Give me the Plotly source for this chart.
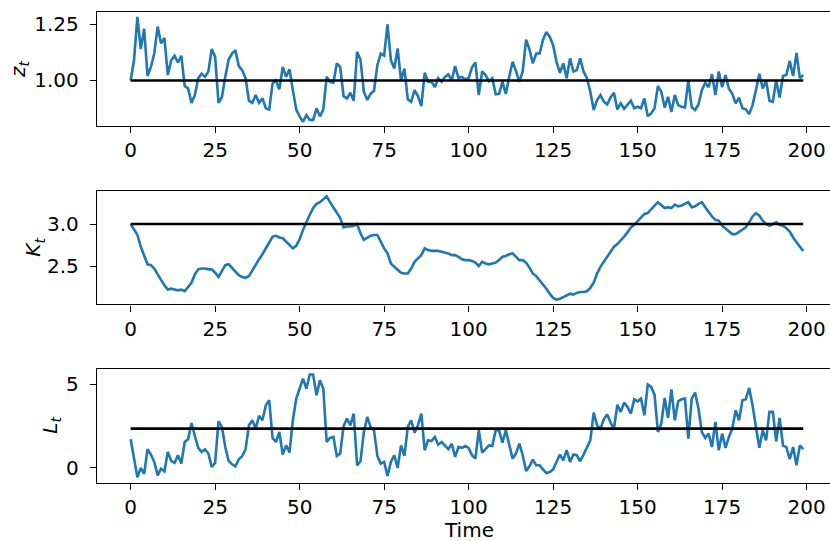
import plotly.graph_objects as go

# ---------------- data ----------------
time = list(range(200))

z_values = [
    1.00, 1.09, 1.283, 1.14, 1.23, 1.02, 1.06, 1.12, 1.24, 1.165,
    1.19, 1.024, 1.09, 1.11, 1.08, 1.11, 0.975, 0.965, 0.90, 0.935,
    1.01, 1.03, 1.016, 1.04, 1.14, 1.105, 0.90, 0.925, 1.016, 1.093,
    1.12, 1.135, 1.064, 1.046, 1.01, 0.91, 0.90, 0.935, 0.90, 0.92,
    0.876, 0.87, 0.987, 1.0, 0.96, 1.06, 1.016, 1.05, 0.957, 0.87,
    0.84, 0.816, 0.846, 0.824, 0.824, 0.876, 0.84, 0.87, 1.016, 0.994,
    0.99, 1.076, 1.06, 0.93, 0.92, 0.945, 0.91, 1.127, 1.093, 0.95,
    0.913, 0.94, 0.954, 1.068, 1.12, 1.11, 1.25, 1.09, 1.053, 1.142,
    1.0, 1.053, 0.916, 0.905, 0.957, 0.93, 0.886, 1.034, 0.994, 0.994,
    0.97, 1.01, 0.994, 1.016, 1.027, 1.0, 1.064, 1.01, 1.016, 1.005,
    1.01, 1.058, 1.08, 0.935, 1.04, 1.024, 0.997, 1.01, 0.938, 0.94,
    0.994, 0.94, 1.016, 1.083, 1.043, 0.994, 1.04, 1.182, 1.138, 1.076,
    1.12, 1.12, 1.182, 1.216, 1.194, 1.157, 1.083, 1.034, 1.076, 1.01,
    1.098, 1.04, 1.046, 1.098, 1.04, 1.01, 0.95, 0.868, 0.913, 0.935,
    0.905, 0.893, 0.924, 0.945, 0.871, 0.898, 0.874, 0.89, 0.91, 0.876,
    0.883, 0.876, 0.92, 0.84, 0.853, 0.876, 0.975, 0.95, 0.879, 0.927,
    0.86, 0.935, 0.89, 0.883, 0.88, 1.0, 0.88, 0.868, 0.893, 0.957,
    0.99, 0.97, 1.028, 0.935, 1.04, 0.97, 1.024, 0.964, 0.94, 0.898,
    0.923, 0.876, 0.871, 0.85, 0.89, 0.957, 1.03, 0.964, 1.0, 0.91,
    0.905, 1.0, 0.924, 1.02, 1.024, 1.087, 1.02, 1.123, 1.01, 1.024,
]

K_values = [
    3.00, 2.94, 2.87, 2.73, 2.63, 2.52, 2.51, 2.47, 2.40, 2.33,
    2.27, 2.22, 2.23, 2.22, 2.21, 2.22, 2.20, 2.25, 2.30, 2.40,
    2.46, 2.47, 2.47, 2.46, 2.46, 2.42, 2.37, 2.44, 2.51, 2.52,
    2.48, 2.44, 2.39, 2.37, 2.36, 2.38, 2.45, 2.52, 2.58, 2.64,
    2.71, 2.77, 2.85, 2.86, 2.84, 2.83, 2.79, 2.75, 2.71, 2.74,
    2.82, 2.93, 3.03, 3.11, 3.19, 3.24, 3.26, 3.30, 3.33, 3.26,
    3.20, 3.14, 3.07, 2.96, 2.97, 2.97, 2.98, 3.00, 2.89, 2.81,
    2.84, 2.86, 2.87, 2.87, 2.79, 2.71, 2.65, 2.53, 2.49, 2.45,
    2.42, 2.41, 2.41, 2.47, 2.55, 2.59, 2.63, 2.71, 2.69, 2.68,
    2.68, 2.68, 2.67, 2.66, 2.65, 2.63, 2.63, 2.61, 2.58, 2.57,
    2.57, 2.56, 2.54, 2.50, 2.55, 2.53, 2.52, 2.53, 2.54, 2.57,
    2.61, 2.62, 2.64, 2.65, 2.61, 2.57, 2.57, 2.54, 2.48, 2.41,
    2.38, 2.33, 2.29, 2.23, 2.17, 2.12, 2.10, 2.11, 2.13, 2.15,
    2.17, 2.16, 2.18, 2.19, 2.19, 2.20, 2.24, 2.30, 2.41, 2.49,
    2.55, 2.61, 2.68, 2.73, 2.76, 2.80, 2.85, 2.90, 2.96, 2.99,
    3.03, 3.07, 3.12, 3.13, 3.18, 3.22, 3.26, 3.23, 3.19, 3.20,
    3.19, 3.23, 3.21, 3.22, 3.24, 3.26, 3.20, 3.21, 3.24, 3.26,
    3.20, 3.14, 3.09, 3.05, 3.04, 2.98, 2.95, 2.91, 2.88, 2.88,
    2.91, 2.94, 2.96, 3.02, 3.09, 3.13, 3.10, 3.04, 3.00, 2.98,
    3.00, 3.02, 2.99, 2.98, 2.95, 2.91, 2.84, 2.78, 2.73, 2.68,
]

L_values = [
    1.71, 0.56, -0.55, 0.0, -0.35, 1.12, 0.80, 0.36, -0.44, -0.04,
    -0.2, 0.96, 0.42, 0.30, 0.76, 0.26, 1.55, 1.71, 2.69, 1.91,
    1.20, 0.96, 1.12, 0.86, 0.06, 0.30, 2.79, 2.45, 1.25, 0.42,
    0.22, 0.10, 0.52, 0.70, 1.12, 2.55, 2.85, 2.35, 3.11, 2.85,
    3.75, 4.04, 1.79, 1.55, 2.15, 0.80, 1.35, 0.92, 2.85, 4.14,
    4.74, 5.34, 4.74, 5.58, 5.58, 4.34, 5.24, 4.74, 1.55, 1.79,
    1.85, 0.72, 0.86, 2.50, 2.95, 2.55, 3.25, 0.16, 0.40, 2.15,
    3.05, 2.45, 2.25, 0.72, 0.26, 0.36, -0.48, 0.36, 0.76, 0.0,
    1.35, 0.72, 2.45, 2.85, 2.11, 2.55, 3.25, 1.06, 1.65, 1.61,
    1.85, 1.39, 1.55, 1.35, 1.12, 1.45, 0.66, 1.25, 1.20, 1.31,
    1.20, 0.76, 0.56, 2.25, 0.92, 1.12, 1.35, 1.31, 2.25, 2.25,
    1.51, 2.25, 1.35, 0.56, 0.86, 1.45, 0.76, -0.18, 0.10, 0.50,
    0.16, 0.16, -0.08, -0.30, -0.24, -0.08, 0.36, 0.80, 0.46, 1.06,
    0.36, 0.80, 0.76, 0.40, 0.80, 1.25, 1.65, 3.31, 2.55, 2.35,
    2.91, 3.19, 2.71, 2.35, 3.78, 3.35, 3.90, 3.65, 3.25, 4.10,
    3.98, 4.14, 3.15, 4.98, 4.84, 4.38, 2.15, 2.65, 4.18, 2.99,
    4.70, 2.85, 3.98, 4.10, 4.14, 1.75, 4.14, 4.50, 3.55, 2.15,
    1.79, 2.05, 1.25, 2.75, 1.06, 2.05, 1.20, 1.85, 2.35, 3.45,
    2.85, 4.04, 4.10, 4.78, 3.75, 2.45, 1.20, 2.25, 1.65, 3.35,
    3.35, 1.59, 2.99, 1.35, 1.25, 0.52, 1.25, 0.16, 1.35, 1.12,
]

steady_z = 1.0
steady_K = 3.0
steady_L = 2.35

x_tick_values = [0, 25, 50, 75, 100, 125, 150, 175, 200]
z_tick_values = [1.00, 1.25]
z_tick_labels = ["1.00", "1.25"]
K_tick_values = [2.5, 3.0]
K_tick_labels = ["2.5", "3.0"]
L_tick_values = [0, 5]
L_tick_labels = ["0", "5"]

# ---------------- layout helpers ----------------
W, H = 830, 541
FONT = "DejaVu Sans"
FS = 20
BLUE = "#1f77b4"

panels = [
    dict(y=z_values, ss=steady_z, top=12, bottom=126, rng=[0.797, 1.305],
         tv=z_tick_values, tt=z_tick_labels,
         label="<i>z</i><sub><i>t</i></sub>", lx=19),
    dict(y=K_values, ss=steady_K, top=191, bottom=304.3, rng=[2.044, 3.393],
         tv=K_tick_values, tt=K_tick_labels,
         label="<i>K</i><sub><i>t</i></sub>", lx=34),
    dict(y=L_values, ss=steady_L, top=368.7, bottom=482.7, rng=[-0.88, 5.93],
         tv=L_tick_values, tt=L_tick_labels,
         label="<i>L</i><sub><i>t</i></sub>", lx=51),
]

fig = go.Figure()
x_left_px = 97.0
px_per_unit = 3.38
x_range = [-9.95, -9.95 + (W - x_left_px) / px_per_unit]

annotations = []
for i, p in enumerate(panels, start=1):
    xa = "x" if i == 1 else f"x{i}"
    ya = "y" if i == 1 else f"y{i}"
    fig.add_trace(go.Scatter(x=time, y=p["y"], mode="lines",
                             line=dict(color=BLUE, width=2.6),
                             xaxis=xa, yaxis=ya, showlegend=False,
                             hoverinfo="skip"))
    fig.add_trace(go.Scatter(x=[time[0], time[-1]], y=[p["ss"], p["ss"]],
                             mode="lines", line=dict(color="black", width=2.6),
                             xaxis=xa, yaxis=ya, showlegend=False,
                             hoverinfo="skip"))
    xkey = "xaxis" if i == 1 else f"xaxis{i}"
    ykey = "yaxis" if i == 1 else f"yaxis{i}"
    fig.update_layout({
        xkey: dict(domain=[x_left_px / W, 1.0], range=x_range,
                   anchor=ya, showgrid=False, zeroline=False,
                   showline=True, mirror=True, linecolor="black", linewidth=1.4,
                   ticks="outside", ticklen=6, tickwidth=1.4, tickcolor="black",
                   tickvals=x_tick_values, ticktext=[str(v) for v in x_tick_values],
                   ticklabelstandoff=0,
                   tickfont=dict(family=FONT, size=FS, color="black")),
        ykey: dict(domain=[1 - p["bottom"] / H, 1 - p["top"] / H], range=p["rng"],
                   anchor=xa, showgrid=False, zeroline=False,
                   showline=True, mirror=False, linecolor="black", linewidth=1.4,
                   ticks="outside", ticklen=6, tickwidth=1.4, tickcolor="black",
                   tickvals=p["tv"], ticktext=p["tt"],
                   ticklabelstandoff=7,
                   tickfont=dict(family=FONT, size=FS, color="black")),
    })
    annotations.append(dict(
        text=p["label"], textangle=-90, showarrow=False,
        xref="paper", yref="paper",
        x=p["lx"] / W, y=1 - ((p["top"] + p["bottom"]) / 2) / H,
        xanchor="center", yanchor="middle",
        font=dict(family=FONT, size=FS, color="black")))

annotations.append(dict(
    text="Time", showarrow=False, xref="paper", yref="paper",
    x=469 / W, y=1 - 530 / H, xanchor="center", yanchor="middle",
    font=dict(family=FONT, size=FS, color="black")))

fig.update_layout(
    width=W, height=H,
    margin=dict(l=0, r=0, t=0, b=0),
    paper_bgcolor="white", plot_bgcolor="white",
    annotations=annotations,
    font=dict(family=FONT, size=FS, color="black"),
)

fig.write_html("out.html")
